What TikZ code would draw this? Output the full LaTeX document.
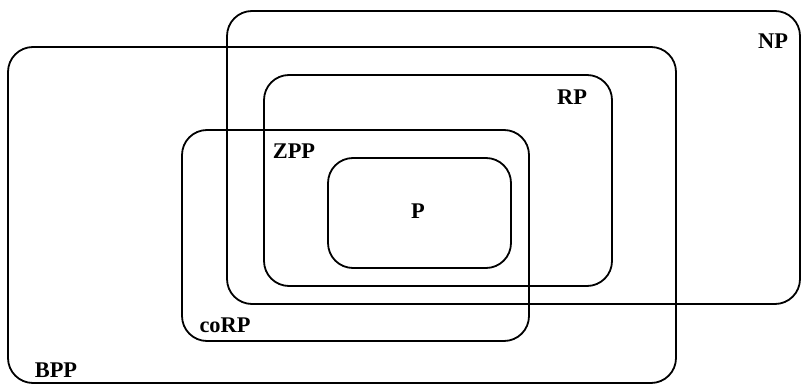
\documentclass[tikz,border=0pt]{standalone}
\usepackage{fontspec}
\setmainfont{Liberation Serif}
\usepackage{tikz}
\usetikzlibrary{positioning}

\begin{document}
\begin{tikzpicture}[x=0.5pt, y=-0.5pt,
    classbox/.style={draw, line width=0.9pt, rounded corners=12.5pt},
    classname/.style={font=\bfseries\fontsize{11.2}{13}\selectfont}]
    \useasboundingbox (0,0) rectangle (801,384);

    % Complexity classes as rounded boxes (corner to corner)
    \foreach \xa/\ya/\xb/\yb in {227/11/800/304, 8/47/676/383, 264/75/612/286,
                                 182/130/529/341, 328/158/511/268} {
        \draw[classbox] (\xa,\ya) rectangle (\xb,\yb);
    }

    % Class names
    \node[classname] (np)   at (773, 41)  {NP};
    \node[classname] (rp)   at (572, 97)  {RP};
    \node[classname] (zpp)  at (294, 151) {ZPP};
    \node[classname] (p)    at (418, 211) {P};
    \node[classname] (corp) at (225, 325) {coRP};
    \node[classname] (bpp)  at (56, 370)  {BPP};

\end{tikzpicture}
\end{document}
